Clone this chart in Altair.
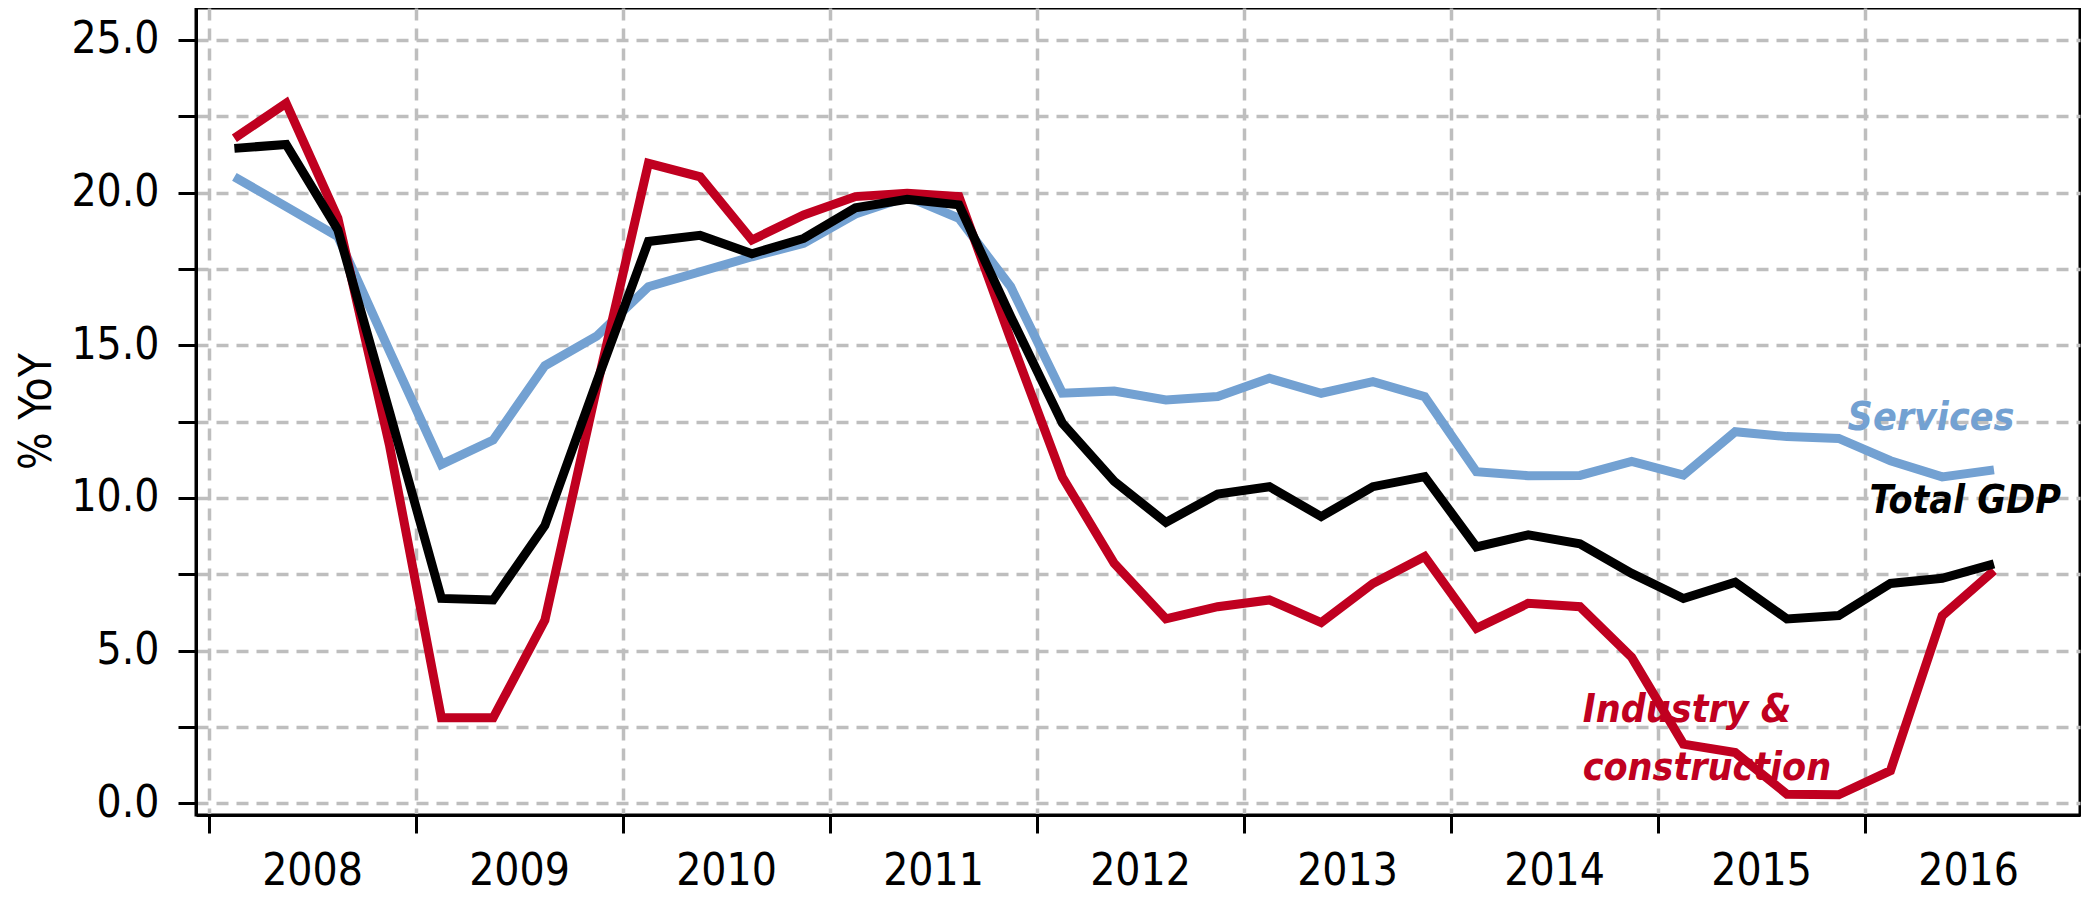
import altair as alt
import pandas as pd

quarters = [
    "2008Q1", "2008Q2", "2008Q3", "2008Q4",
    "2009Q1", "2009Q2", "2009Q3", "2009Q4",
    "2010Q1", "2010Q2", "2010Q3", "2010Q4",
    "2011Q1", "2011Q2", "2011Q3", "2011Q4",
    "2012Q1", "2012Q2", "2012Q3", "2012Q4",
    "2013Q1", "2013Q2", "2013Q3", "2013Q4",
    "2014Q1", "2014Q2", "2014Q3", "2014Q4",
    "2015Q1", "2015Q2", "2015Q3", "2015Q4",
    "2016Q1", "2016Q2", "2016Q3",
]

total_gdp = [
    21.45, 21.58, 18.78, 12.8,
    6.71, 6.66, 9.1, 13.8,
    18.4, 18.6, 18.0, 18.5,
    19.5, 19.78, 19.6, 15.95,
    12.45, 10.55, 9.2, 10.13,
    10.37, 9.39, 10.37, 10.7,
    8.4, 8.79, 8.5, 7.53,
    6.71, 7.24, 6.04, 6.15,
    7.2, 7.37, 7.84,
]

industry = [
    21.78, 22.93, 19.16, 11.7,
    2.8, 2.8, 6.0, 13.6,
    20.96, 20.52, 18.45, 19.27,
    19.87, 19.98, 19.87, 15.2,
    10.68, 7.86, 6.04, 6.44,
    6.66, 5.92, 7.2, 8.08,
    5.73, 6.55, 6.44, 4.78,
    1.94, 1.66, 0.3, 0.28,
    1.07, 6.14, 7.62,
]

services = [
    20.52, 19.54, 18.56, 14.8,
    11.1, 11.9, 14.33, 15.3,
    16.92, 17.41, 17.9, 18.34,
    19.3, 19.87, 19.16, 16.92,
    13.43, 13.5, 13.21, 13.32,
    13.92, 13.43, 13.81, 13.32,
    10.86, 10.73, 10.74, 11.2,
    10.75, 12.17, 12.01, 11.95,
    11.22, 10.69, 10.92,
]

year_ticks = [2008, 2009, 2010, 2011, 2012, 2013, 2014, 2015, 2016]
y_ticks = [0, 2.5, 5, 7.5, 10, 12.5, 15, 17.5, 20, 22.5, 25]

series_names = ["Services", "Industry & construction", "Total GDP"]
series_colors = ["#73A1D2", "#C00020", "#000000"]

FONT = "DejaVu Sans Condensed, DejaVu Sans, sans-serif"

# quarter midpoint as decimal year
t_vals = [int(q[:4]) + (int(q[5]) - 0.5) / 4 for q in quarters]

df = pd.DataFrame({
    "quarter": quarters * 3,
    "t": t_vals * 3,
    "value": services + industry + total_gdp,
    "series": [series_names[0]] * len(quarters)
    + [series_names[1]] * len(quarters)
    + [series_names[2]] * len(quarters),
})

labels = pd.DataFrame({
    "t": [2015.918, 2016.024, 2014.638, 2014.638],
    "v": [12.23, 9.5, 2.66, 0.76],
    "text": ["Services", "Total GDP", "Industry &", "construction"],
    "series": [series_names[0], series_names[2], series_names[1], series_names[1]],
})

x_scale = alt.Scale(domain=[2007.9396, 2017.0406], nice=False, zero=False)
y_scale = alt.Scale(domain=[-0.383, 26.048], nice=False, zero=False)

x_axis = alt.Axis(
    values=year_ticks, format="d", labelOffset=103.5, labelFlush=False,
    labelOverlap=False, labelBound=False,
    tickSize=18, tickWidth=3, tickColor="black",
    domainColor="black", domainWidth=3,
    labelFont=FONT, labelFontSize=44, labelColor="black", labelPadding=16,
    grid=True, gridDash=[12, 8], gridColor="#BEBEBE", gridWidth=3.5,
    title=None,
)

y_axis = alt.Axis(
    values=y_ticks,
    labelExpr="datum.value % 5 === 0 ? format(datum.value, '.1f') : ''",
    labelOverlap=False, labelFlush=False, labelBound=False,
    tickSize=18, tickWidth=3, tickColor="black",
    domainColor="black", domainWidth=3,
    labelFont=FONT, labelFontSize=44, labelColor="black", labelPadding=19,
    grid=True, gridDash=[12, 8], gridColor="#BEBEBE", gridWidth=3.5,
    title="% YoY", titleFont=FONT, titleFontSize=44, titleFontWeight="normal",
    titleColor="black", titleAngle=270, titleBaseline="alphabetic",
    titleAlign="center", titleX=-146, titleY=403,
)

base = alt.Chart(df)

color_scale = alt.Scale(domain=series_names, range=series_colors)

lines = []
for name in series_names:
    lines.append(
        base.transform_filter(alt.datum.series == name)
        .mark_line(strokeWidth=9, strokeJoin="miter", clip=True)
        .encode(
            x=alt.X("t:Q", scale=x_scale, axis=x_axis),
            y=alt.Y("value:Q", scale=y_scale, axis=y_axis),
            color=alt.Color("series:N", scale=color_scale, legend=None),
        )
    )

text = alt.Chart(labels).mark_text(
    align="left", baseline="alphabetic", font=FONT, fontSize=39,
    fontStyle="italic", fontWeight="bold",
).encode(
    x=alt.X("t:Q", scale=x_scale),
    y=alt.Y("v:Q", scale=y_scale),
    text="text:N",
    color=alt.Color("series:N", scale=color_scale, legend=None),
)

chart = alt.layer(*lines, text).properties(
    width=1884, height=807,
    autosize=alt.AutoSizeParams(type="none"),
    padding={"left": 188, "top": 0, "right": 1, "bottom": 80},
    background="white",
).configure_view(stroke="black", strokeWidth=3)

chart.save("out.html", embed_options={"renderer": "svg", "actions": False})
